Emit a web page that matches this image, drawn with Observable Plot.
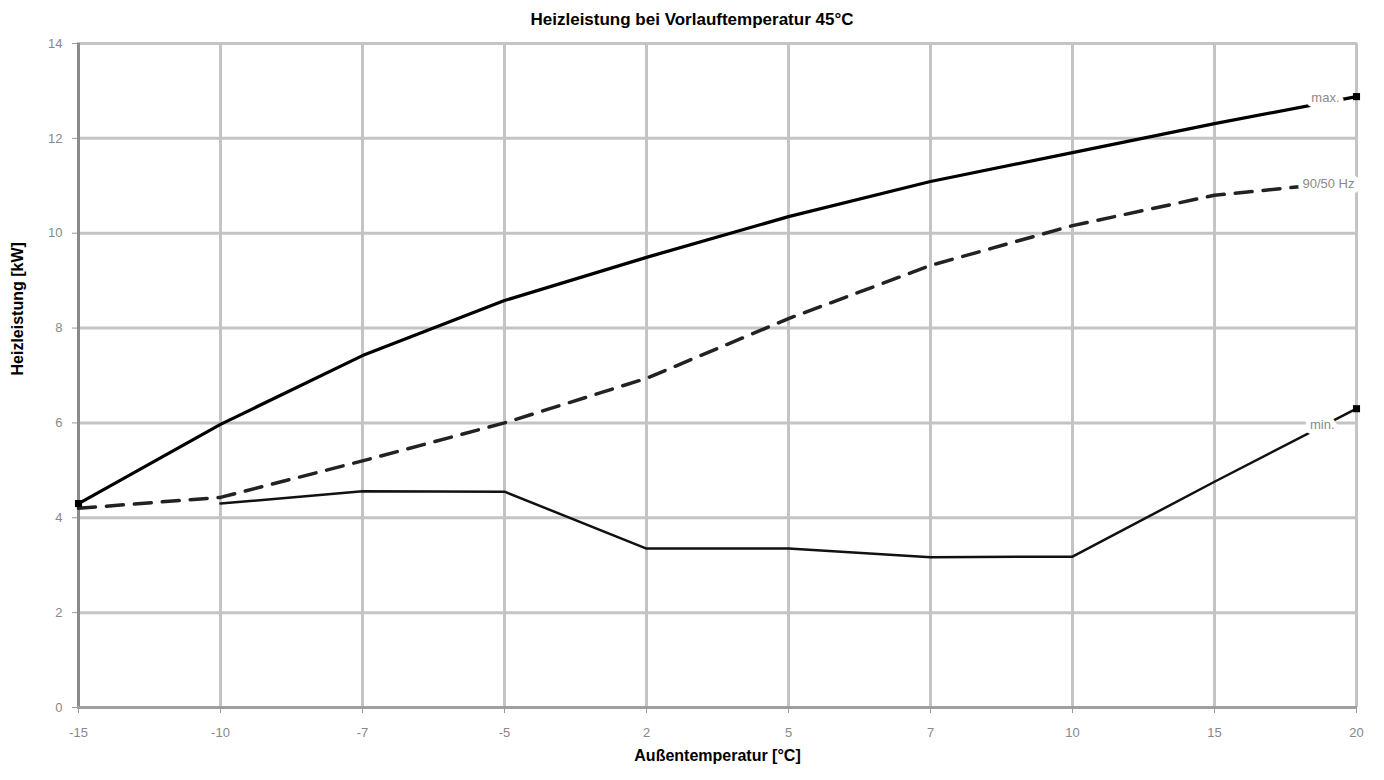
<!DOCTYPE html>
<html><head><meta charset="utf-8">
<script src="https://cdn.jsdelivr.net/npm/d3@7"></script>
<script src="https://cdn.jsdelivr.net/npm/@observablehq/plot@0.6"></script>
<style>
body{margin:0;background:#fff;font-family:"Liberation Sans",Arial,sans-serif;position:relative;}
#title{position:absolute;top:0;left:0;width:1384px;height:40px;line-height:40px;text-align:center;font-weight:bold;font-size:17px;color:#000;}
</style></head><body>
<div id="chart"></div>
<div id="title">Heizleistung bei Vorlauftemperatur 45°C</div>
<script>
const categories = ["-15","-10","-7","-5","2","5","7","10","15","20"];
const maxValues = [4.3, 5.97, 7.42, 8.58, 9.49, 10.35, 11.09, 11.7, 12.31, 12.88];
const hzValues = [4.2, 4.43, 5.2, 6.0, 6.94, 8.2, 9.32, 10.16, 10.8, 11.1];
const minCategories = ["-10","-7","-5","2","5","7","10","15","20"];
const minValues = [4.3, 4.56, 4.55, 3.35, 3.35, 3.17, 3.18, 4.76, 6.3];
const yTicks = [0, 2, 4, 6, 8, 10, 12, 14];
const seriesLabels = ["max.", "90/50 Hz", "min."];

const maxData = categories.map((c, i) => ({x: c, y: maxValues[i]}));
const hzData = categories.map((c, i) => ({x: c, y: hzValues[i]}));
const minData = minCategories.map((c, i) => ({x: c, y: minValues[i]}));
const endPoints = [maxData[maxData.length - 1], minData[minData.length - 1], maxData[0]];

function seriesLabel(text, yv, dx) {
  const d = [{x: "20", y: yv, t: text}];
  return [
    Plot.text(d, {x: "x", y: "y", text: "t", dx, textAnchor: "end", fontSize: 13, fill: "#fff", stroke: "#fff", strokeWidth: 10}),
    Plot.text(d, {x: "x", y: "y", text: "t", dx, textAnchor: "end", fontSize: 13, fill: "#8a8a8a"})
  ];
}

const chart = Plot.plot({
  width: 1384,
  height: 780,
  marginLeft: 77,
  marginRight: 27,
  marginTop: 43,
  marginBottom: 73,
  style: {fontFamily: "Liberation Sans, Arial, sans-serif", background: "#fff"},
  x: {type: "point", domain: categories, padding: 0},
  y: {domain: [0, 14]},
  marks: [
    Plot.gridY(yTicks, {stroke: "#c4c4c4", strokeOpacity: 1, strokeWidth: 3}),
    Plot.gridX(categories, {stroke: "#c4c4c4", strokeOpacity: 1, strokeWidth: 3}),
    Plot.ruleX([categories[0]], {stroke: "#8a8a8a", strokeWidth: 3}),
    Plot.ruleY([0], {stroke: "#a0a0a0", strokeWidth: 3}),
    Plot.axisY(yTicks, {tickSize: 5, tickPadding: 10, fontSize: 13, color: "#888", label: null, stroke: "#999"}),
    Plot.axisX(categories, {tickSize: 6, tickPadding: 14, fontSize: 13, color: "#888", label: null, stroke: "#999"}),
    Plot.line(hzData, {x: "x", y: "y", stroke: "#222", strokeWidth: 3.5, strokeDasharray: "17,11"}),
    Plot.line(minData, {x: "x", y: "y", stroke: "#111", strokeWidth: 2.5}),
    Plot.line(maxData, {x: "x", y: "y", stroke: "#000", strokeWidth: 3.2}),
    ...seriesLabel(seriesLabels[0], 12.86, -17),
    ...seriesLabel(seriesLabels[1], 11.05, -2),
    ...seriesLabel(seriesLabels[2], 5.95, -22),
    Plot.dot(endPoints, {x: "x", y: "y", symbol: "square", r: 4, fill: "#000"}),
    Plot.text(["Heizleistung [kW]"], {frameAnchor: "left", dx: -60, rotate: -90, fontSize: 16, fontWeight: "bold", fill: "#000"}),
    Plot.text(["Außentemperatur [°C]"], {frameAnchor: "bottom", dy: 53, fontSize: 16, fontWeight: "bold", fill: "#000"})
  ]
});
document.getElementById("chart").appendChild(chart);
</script>
</body></html>
